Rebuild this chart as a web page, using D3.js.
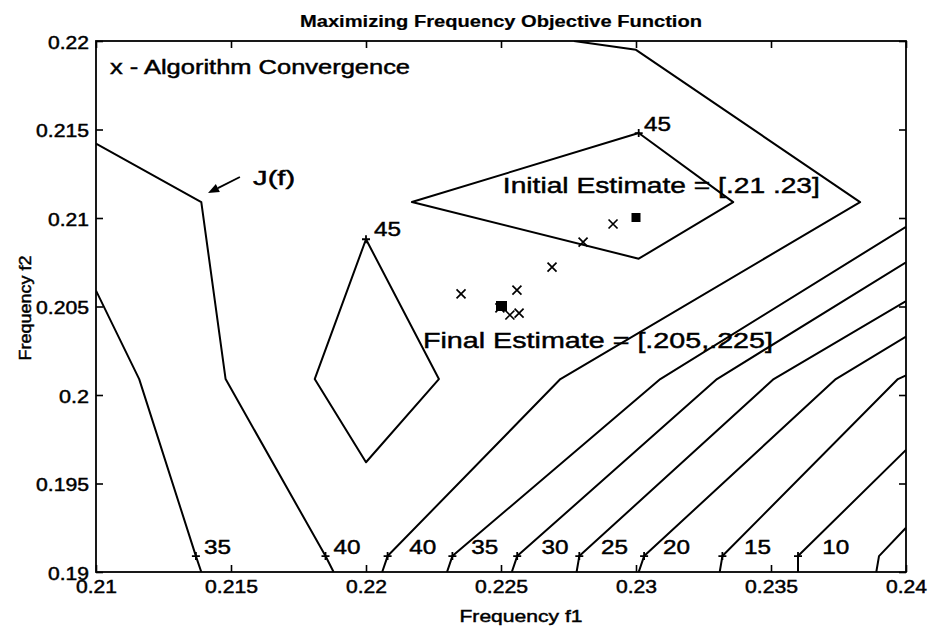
<!DOCTYPE html>
<html>
<head>
<meta charset="utf-8">
<script src="https://cdn.jsdelivr.net/npm/d3@7"></script>
<style>
  html, body { margin: 0; padding: 0; background: #fff; }
  svg { display: block; }
  text { font-family: "Liberation Sans", Arial, Helvetica, sans-serif; fill: #000; stroke: #000; stroke-width: 0.45px; }
</style>
</head>
<body>
<svg id="chart" width="929" height="626"></svg>
<script>
// ---- axis ticks ----
const xTicks = [0.21, 0.215, 0.22, 0.225, 0.23, 0.235, 0.24];
const xTickLabels = ["0.21", "0.215", "0.22", "0.225", "0.23", "0.235", "0.24"];
const yTicks = [0.19, 0.195, 0.2, 0.205, 0.21, 0.215, 0.22];
const yTickLabels = ["0.19", "0.195", "0.2", "0.205", "0.21", "0.215", "0.22"];

// ---- contour lines of J(f), vertices as [f1, f2] ----
const level35Left  = [[0.21, 0.2059], [0.2116, 0.2009], [0.2137, 0.1909], [0.2139, 0.19]];
const level40Left  = [[0.21, 0.2142], [0.2139, 0.2109], [0.2148, 0.2009], [0.2185, 0.1909], [0.2188, 0.19]];
const level45Low   = [[0.22, 0.2088], [0.2227, 0.2009], [0.22, 0.1962], [0.2181, 0.2009], [0.22, 0.2088]];
const level45High  = [[0.2301, 0.2148], [0.2336, 0.2109], [0.2301, 0.2077], [0.2217, 0.2109], [0.2301, 0.2148]];
const level40Right = [[0.2206, 0.19], [0.2208, 0.1909], [0.2272, 0.2009], [0.2383, 0.2109], [0.2300, 0.2195], [0.2277, 0.22]];
const level35Right = [[0.2230, 0.19], [0.2232, 0.1909], [0.2309, 0.2009], [0.24, 0.2095]];
const level30      = [[0.2254, 0.19], [0.2256, 0.1909], [0.2330, 0.2009], [0.24, 0.2075]];
const level25      = [[0.2278, 0.19], [0.2279, 0.1909], [0.2351, 0.2009], [0.24, 0.2053]];
const level20      = [[0.2301, 0.19], [0.2303, 0.1909], [0.2374, 0.2009], [0.24, 0.2033]];
const level15      = [[0.2331, 0.19], [0.2332, 0.1909], [0.2397, 0.2009], [0.24, 0.2011]];
const level10      = [[0.2360, 0.19], [0.2360, 0.1909], [0.24, 0.1969]];
const level5       = [[0.2389, 0.19], [0.2390, 0.1909], [0.24, 0.1925]];

const contourLines = [level35Left, level40Left, level45Low, level45High, level40Right,
  level35Right, level30, level25, level20, level15, level10, level5];

// contour labels: "+" mark on the line, text anchor
const labelText  = ["35", "40", "45", "45", "40", "35", "30", "25", "20", "15", "10"];
const labelMark  = [[0.2137, 0.1909], [0.2185, 0.1909], [0.22, 0.2088], [0.2301, 0.2148],
  [0.2208, 0.1909], [0.2232, 0.1909], [0.2256, 0.1909], [0.2279, 0.1909],
  [0.2303, 0.1909], [0.2332, 0.1909], [0.2360, 0.1909]];
const labelAnchor = [[0.2140, 0.1910], [0.2188, 0.1910], [0.2203, 0.2090], [0.2303, 0.2149],
  [0.2216, 0.1910], [0.2239, 0.1910], [0.2265, 0.1910], [0.2287, 0.1910],
  [0.2310, 0.1910], [0.2340, 0.1910], [0.2369, 0.1910]];

// algorithm iterates
const iterates = [[0.22915, 0.20966], [0.22804, 0.20864], [0.22689, 0.20723], [0.22559, 0.20593],
  [0.22352, 0.20571], [0.22567, 0.20463], [0.22533, 0.20452], [0.22496, 0.20492]];
const initialEstimate = [0.23, 0.21];
const finalEstimate = [0.225, 0.205];

// ---- layout ----
const svg = d3.select("#chart");
const plotL = 96, plotR = 906, plotT = 41, plotB = 572;
const x = d3.scaleLinear().domain([0.21, 0.24]).range([plotL, plotR]);
const y = d3.scaleLinear().domain([0.19, 0.22]).range([plotB, plotT]);

svg.append("rect").attr("width", 929).attr("height", 626).attr("fill", "#fff");

function stretch(sel, w) {
  sel.attr("textLength", w).attr("lengthAdjust", "spacingAndGlyphs");
}

svg.append("clipPath").attr("id", "plot")
  .append("rect").attr("x", plotL).attr("y", plotT)
  .attr("width", plotR - plotL).attr("height", plotB - plotT);

// contours
const line = d3.line().x(d => x(d[0])).y(d => y(d[1]));
svg.append("g").attr("clip-path", "url(#plot)")
  .selectAll("path").data(contourLines).join("path")
  .attr("d", line).attr("fill", "none").attr("stroke", "#000")
  .attr("stroke-width", 2).attr("stroke-linejoin", "round");

// axes (ticks pointing inward)
const gx = svg.append("g").attr("transform", `translate(0,${plotB})`)
  .call(d3.axisBottom(x).tickValues(xTicks).tickFormat((d, i) => xTickLabels[i]).tickSize(-7).tickSizeOuter(0));
const gy = svg.append("g").attr("transform", `translate(${plotL},0)`)
  .call(d3.axisLeft(y).tickValues(yTicks).tickFormat((d, i) => yTickLabels[i]).tickSize(-7).tickSizeOuter(0));
const gt = svg.append("g").attr("transform", `translate(0,${plotT})`)
  .call(d3.axisTop(x).tickValues(xTicks).tickFormat("").tickSize(-7).tickSizeOuter(0));
const gr = svg.append("g").attr("transform", `translate(${plotR},0)`)
  .call(d3.axisRight(y).tickValues(yTicks).tickFormat("").tickSize(-7).tickSizeOuter(0));

[gx, gy, gt, gr].forEach(g => {
  g.select(".domain").remove();
  g.selectAll(".tick line").attr("stroke", "#000").attr("stroke-width", 1.6);
});

gx.selectAll(".tick text")
  .attr("y", 21).attr("dy", 0).attr("font-size", 17.5).attr("font-family", null)
  .each(function(d, i) { stretch(d3.select(this), xTickLabels[i].length > 4 ? 53 : 41); });
gy.selectAll(".tick text")
  .attr("x", -7).attr("dy", 7).attr("font-size", 17.5).attr("font-family", null)
  .each(function(d, i) {
    const n = yTickLabels[i].length;
    stretch(d3.select(this), n > 4 ? 53 : (n > 3 ? 41 : 30));
  });

// frame
svg.append("rect").attr("x", plotL).attr("y", plotT)
  .attr("width", plotR - plotL).attr("height", plotB - plotT)
  .attr("fill", "none").attr("stroke", "#000").attr("stroke-width", 1.8);

// contour label marks and text
const plus = (cx, cy, r) => `M${cx - r},${cy}H${cx + r}M${cx},${cy - r}V${cy + r}`;
svg.append("g").selectAll("path").data(labelMark).join("path")
  .attr("d", d => plus(x(d[0]), y(d[1]), 4))
  .attr("stroke", "#000").attr("stroke-width", 1.8);
svg.append("g").selectAll("text").data(labelText).join("text")
  .attr("x", (d, i) => x(labelAnchor[i][0]))
  .attr("y", (d, i) => y(labelAnchor[i][1]))
  .attr("font-size", 20)
  .text(d => d)
  .each(function() { stretch(d3.select(this), 27); });

// iterates
const cross = (cx, cy, r) => `M${cx - r},${cy - r}L${cx + r},${cy + r}M${cx - r},${cy + r}L${cx + r},${cy - r}`;
svg.append("g").selectAll("path").data(iterates).join("path")
  .attr("d", d => cross(x(d[0]), y(d[1]), 4.5))
  .attr("stroke", "#000").attr("stroke-width", 1.7);
svg.append("rect")
  .attr("x", x(initialEstimate[0]) - 4.5).attr("y", y(initialEstimate[1]) - 5)
  .attr("width", 9).attr("height", 9).attr("fill", "#000");
svg.append("rect")
  .attr("x", x(finalEstimate[0]) - 5).attr("y", y(finalEstimate[1]) - 5.5)
  .attr("width", 11).attr("height", 10).attr("fill", "#000");

// annotations
svg.append("text").attr("x", x(0.22507)).attr("y", y(0.21141))
  .attr("font-size", 22.5).text("Initial Estimate = [.21 .23]")
  .call(stretch, 317);
svg.append("text").attr("x", x(0.22211)).attr("y", y(0.20266))
  .attr("font-size", 22.5).text("Final Estimate = [.205,.225]")
  .call(stretch, 350);
svg.append("text").attr("x", x(0.21052)).attr("y", y(0.21814))
  .attr("font-size", 19.5).text("x - Algorithm Convergence")
  .call(stretch, 300);
svg.append("text").attr("x", x(0.21582)).attr("y", y(0.21186))
  .attr("font-size", 21).text("J(f)")
  .call(stretch, 42);

// arrow pointing at the J(f) contour
const tail = [x(0.21533), y(0.21232)], head = [x(0.21415), y(0.21141)];
const ang = Math.atan2(head[1] - tail[1], head[0] - tail[0]);
const ah = 11, aw = 4.5;
const back = [head[0] - ah * Math.cos(ang), head[1] - ah * Math.sin(ang)];
svg.append("line").attr("x1", tail[0]).attr("y1", tail[1])
  .attr("x2", back[0]).attr("y2", back[1])
  .attr("stroke", "#000").attr("stroke-width", 1.8);
svg.append("path")
  .attr("d", `M${head[0]},${head[1]}L${back[0] + aw * Math.sin(ang)},${back[1] - aw * Math.cos(ang)}L${back[0] - aw * Math.sin(ang)},${back[1] + aw * Math.cos(ang)}Z`)
  .attr("fill", "#000");

// title and axis titles
svg.append("text").attr("x", 501).attr("y", 27).attr("text-anchor", "middle")
  .attr("font-size", 16).attr("font-weight", "bold").style("stroke-width", "0.2px")
  .text("Maximizing Frequency Objective Function").call(stretch, 402);
svg.append("text").attr("x", 521).attr("y", 622).attr("text-anchor", "middle")
  .attr("font-size", 17).text("Frequency f1").call(stretch, 123);
svg.append("text").attr("transform", "translate(31,308) rotate(-90)").attr("text-anchor", "middle")
  .attr("font-size", 17).text("Frequency f2").call(stretch, 105);
</script>
</body>
</html>
